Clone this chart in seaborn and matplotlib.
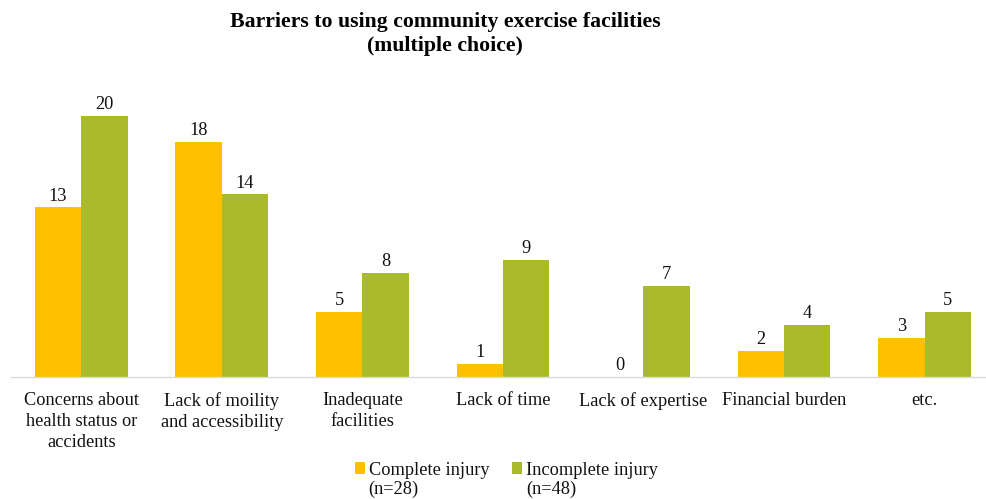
import matplotlib
matplotlib.use("Agg")
import matplotlib.pyplot as plt
import seaborn as sns
import pandas as pd

categories = ["Concerns about\nhealth status or\naccidents", "Lack of moility\nand accessibility",
              "Inadequate\nfacilities", "Lack of time", "Lack of expertise", "Financial burden", "etc."]
complete = [13, 18, 5, 1, 0, 2, 3]
incomplete = [20, 14, 8, 9, 7, 4, 5]
series = ["Complete injury", "Incomplete injury"]
series_n = ["(n=28)", "(n=48)"]
colors = ["#FFC000", "#A9BA2B"]

df = pd.DataFrame({
    "cat": categories * 2,
    "val": complete + incomplete,
    "series": [series[0]] * len(categories) + [series[1]] * len(categories),
})

sns.set_style("white")
plt.rcParams['font.family'] = ['Liberation Serif', 'DejaVu Serif']
FS = 13.2

fig = plt.figure(figsize=(9.87, 4.99), dpi=100)
ax = fig.add_axes([11/987, (499-377)/499, (985-11)/987, (377-77)/499])
sns.barplot(data=df, x="cat", y="val", hue="series", palette=colors, width=0.66,
            ax=ax, saturation=1, legend=True, linewidth=0, edgecolor="none")
ax.set_ylim(0, 23)
ax.set_xlim(-0.5, 6.43)
for c in ax.containers:
    ax.bar_label(c, padding=2, fontsize=FS, color="#111111")
ax.set_xlabel("")
ax.set_ylabel("")
ax.set_yticks([])
for s in ["top", "left", "right"]:
    ax.spines[s].set_visible(False)
ax.spines["bottom"].set_color("#D9D9D9")
ax.spines["bottom"].set_linewidth(1)
ax.tick_params(axis="x", length=0, pad=11, labelsize=FS, labelcolor="#111111")
for t in ax.get_xticklabels():
    t.set_linespacing(1.3)

fig.text(0.451, 0.975, "Barriers to using community exercise facilities\n(multiple choice)",
         ha="center", va="top", fontsize=15.7, fontweight="bold", linespacing=1.22,
         color="#000000")

h, l = ax.get_legend_handles_labels()
ax.legend_.remove()
leg = fig.legend(h, l, loc="lower center", bbox_to_anchor=(0.513, 0.008), ncol=2, frameon=False,
                 fontsize=FS, handlelength=0.55, handleheight=0.55, handletextpad=0.2,
                 columnspacing=1.25)
for t in leg.get_texts():
    t.set_color("#111111")

fig.canvas.draw()
inv = fig.transFigure.inverted()
for t, n in zip(leg.get_texts(), series_n):
    bb = t.get_window_extent()
    x0, y0 = inv.transform((bb.x0, bb.y0))
    fig.text(x0, y0 - 0.004, n, ha="left", va="top", fontsize=FS, color="#111111")

fig.savefig("out.png", dpi=100)
